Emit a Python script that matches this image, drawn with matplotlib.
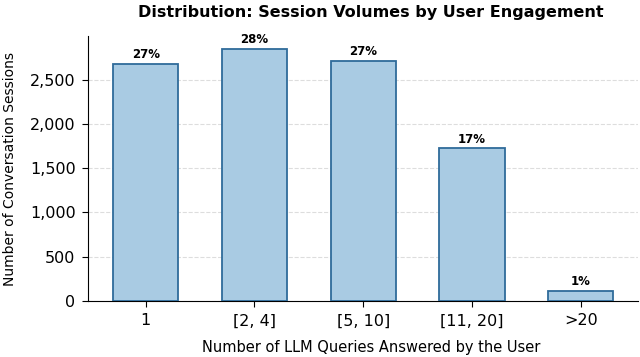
import matplotlib
matplotlib.use("Agg")
import matplotlib.pyplot as plt
from matplotlib.ticker import FuncFormatter

# session counts per engagement bucket
categories = ['1', '[2, 4]', '[5, 10]', '[11, 20]', '>20']
sessions = [2680, 2849, 2714, 1723, 113]

total = sum(sessions)
pcts = [s / total * 100 for s in sessions]

fig = plt.figure(figsize=(6.4, 3.57), dpi=100)
ax = fig.add_axes([0.1375, 0.157, 0.86, 0.742])

x = list(range(len(categories)))
bars = ax.bar(x, sessions, width=0.6, color='#a9cbe3', edgecolor='#2f6b9a', linewidth=1.3, zorder=3)

for b, p in zip(bars, pcts):
    ax.text(b.get_x() + b.get_width() / 2, b.get_height() + 30, f'{p:.0f}%',
            ha='center', va='bottom', fontsize=8.5, fontweight='bold')

ax.set_xticks(x)
ax.set_xticklabels(categories)
ax.tick_params(axis='both', labelsize=11.5, length=4, pad=5)
ax.yaxis.set_major_formatter(FuncFormatter(lambda v, pos: f'{int(v):,}'))
ax.set_ylim(0, max(sessions) * 1.05)

ax.grid(axis='y', linestyle='--', color='#dddddd', linewidth=0.8, zorder=0)
ax.spines['top'].set_visible(False)
ax.spines['right'].set_visible(False)

ax.set_xlabel('Number of LLM Queries Answered by the User', fontsize=10.5)
ax.xaxis.set_label_coords(0.514, -0.148)
ax.set_ylabel('Number of Conversation Sessions', fontsize=10, labelpad=9)
ax.set_title('Distribution: Session Volumes by User Engagement', fontsize=11.5, fontweight='bold',
             pad=14, x=0.514)

fig.savefig('out.png', dpi=100)
